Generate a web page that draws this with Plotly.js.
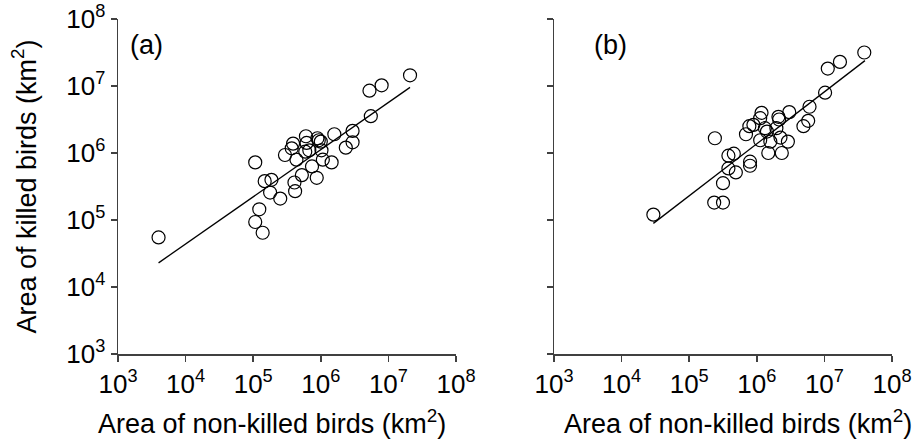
<!DOCTYPE html>
<html>
<head>
<meta charset="utf-8">
<script src="https://cdn.plot.ly/plotly-3.0.1.min.js"></script>
<style>html,body{margin:0;padding:0;background:#fff;}#chart{width:916px;height:443px;}</style>
</head>
<body>
<div id="chart"></div>
<script>
// Panel (a): log10 of areas
const logNonKilledA = [7.32,6.90,6.72,6.74,6.47,6.47,6.37,6.20,5.97,6.00,6.01,6.03,6.16,5.78,5.79,5.77,5.59,5.57,5.47,5.64,5.87,5.72,5.94,5.61,5.62,5.03,5.17,5.27,5.25,5.40,5.09,5.03,5.14,3.60,5.95,5.83];
const logKilledA    = [7.16,7.01,6.93,6.55,6.33,6.16,6.08,6.28,6.19,6.17,6.04,5.90,5.86,6.25,6.15,6.02,6.14,6.07,5.97,5.90,5.80,5.67,5.63,5.56,5.43,5.86,5.58,5.60,5.41,5.32,5.16,4.97,4.81,4.74,6.22,6.04];
// Panel (b)
const logNonKilledB = [7.59,7.23,7.05,7.01,6.78,6.76,6.69,6.48,6.32,6.33,6.07,6.05,5.95,5.89,5.84,6.12,6.15,6.29,6.05,6.20,6.35,6.46,6.17,6.37,5.38,5.58,5.66,5.90,5.90,5.58,5.69,5.50,5.37,5.50,4.47];
const logKilledB    = [7.50,7.36,7.26,6.90,6.69,6.48,6.40,6.61,6.54,6.50,6.60,6.52,6.42,6.40,6.28,6.37,6.32,6.37,6.19,6.17,6.23,6.17,6.00,6.00,6.22,5.96,5.99,5.87,5.81,5.77,5.71,5.55,5.26,5.26,5.08];
// Fitted regression lines (log-log): log10(y) = intercept + slope*log10(x)
const fitA = {intercept: 1.826, slope: 0.704, xRange: [3.60, 7.32]};
const fitB = {intercept: 1.481, slope: 0.776, xRange: [4.47, 7.60]};
// Tick values / labels
const tickVals = [1e3,1e4,1e5,1e6,1e7,1e8];
const tickText = ['10<sup>3</sup>','10<sup>4</sup>','10<sup>5</sup>','10<sup>6</sup>','10<sup>7</sup>','10<sup>8</sup>'];
const xTitle = 'Area of non-killed birds (km<sup>2</sup>)';
const yTitle = 'Area of killed birds (km<sup>2</sup>)';
const panelLabels = ['(a)','(b)'];

const pw = v => v.map(l => Math.pow(10, l));
const fitLine = f => {
  const xs = f.xRange;
  return {x: pw(xs), y: pw(xs.map(l => f.intercept + f.slope*l))};
};

const FONT = 'Arial, "Liberation Sans", sans-serif';
const marker = {symbol:'circle-open', size:13, color:'#000', line:{width:1.2, color:'#000'}};
const la = fitLine(fitA), lb = fitLine(fitB);

const traces = [
  {x: la.x, y: la.y, mode:'lines', line:{color:'#000', width:1.3}, xaxis:'x', yaxis:'y', hoverinfo:'skip'},
  {x: pw(logNonKilledA), y: pw(logKilledA), mode:'markers', marker: marker, xaxis:'x', yaxis:'y'},
  {x: lb.x, y: lb.y, mode:'lines', line:{color:'#000', width:1.3}, xaxis:'x2', yaxis:'y2', hoverinfo:'skip'},
  {x: pw(logNonKilledB), y: pw(logKilledB), mode:'markers', marker: marker, xaxis:'x2', yaxis:'y2'}
];

const axisBase = {
  type:'log', range:[3,8], tickvals: tickVals, ticktext: tickText,
  showgrid:false, zeroline:false, showline:true, linecolor:'#404040', linewidth:1.5,
  ticks:'outside', ticklen:6, tickwidth:1.5, tickcolor:'#404040',
  tickfont:{family:FONT, size:26, color:'#000'}, automargin:false, mirror:false
};

const yDomain = [(443-354)/443, (443-19)/443];
const titleFont = {family:FONT, size:27, color:'#000'};
const layout = {
  width:916, height:443, margin:{l:0,r:0,t:0,b:0},
  paper_bgcolor:'#fff', plot_bgcolor:'#fff', showlegend:false,
  font:{family:FONT, color:'#000'},
  xaxis: Object.assign({}, axisBase, {domain:[118/916, 456/916], anchor:'y'}),
  yaxis: Object.assign({}, axisBase, {domain:yDomain, anchor:'x',
    title:{text:yTitle, font:titleFont, standoff:22}}),
  xaxis2: Object.assign({}, axisBase, {domain:[554/916, 892/916], anchor:'y2'}),
  yaxis2: Object.assign({}, axisBase, {domain:yDomain, anchor:'x2', showticklabels:false}),
  annotations: [
    {text:xTitle, xref:'paper', yref:'paper', x:272/916, y:(443-422)/443, xanchor:'center', yanchor:'middle', showarrow:false, font:titleFont},
    {text:xTitle, xref:'paper', yref:'paper', x:738/916, y:(443-422)/443, xanchor:'center', yanchor:'middle', showarrow:false, font:titleFont},
    {text:panelLabels[0], xref:'paper', yref:'paper', x:128/916, y:(443-45)/443, xanchor:'left', yanchor:'middle', showarrow:false, font:titleFont},
    {text:panelLabels[1], xref:'paper', yref:'paper', x:592/916, y:(443-45)/443, xanchor:'left', yanchor:'middle', showarrow:false, font:titleFont}
  ]
};

Plotly.newPlot('chart', traces, layout, {staticPlot:true, displayModeBar:false});
</script>
</body>
</html>
